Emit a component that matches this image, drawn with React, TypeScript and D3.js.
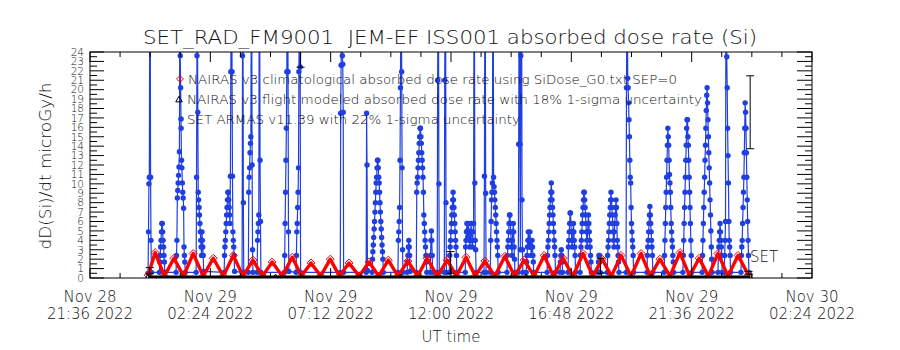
import React from "react";
import * as d3 from "d3";

const W = 900;
const H = 350;
const PL = 90, PR = 812, PT = 52, PB = 278;

// x axis (minutes after Nov 29 2022 00:00 UT)
const xTickMinutes = [-144, 144, 432, 720, 1008, 1296, 1584];
const xTickDay = ["Nov 28", "Nov 29", "Nov 29", "Nov 29", "Nov 29", "Nov 29", "Nov 30"];
const xTickTime = ["21:36 2022", "02:24 2022", "07:12 2022", "12:00 2022", "16:48 2022", "21:36 2022", "02:24 2022"];

// SET ARMAS passes: start minute + consecutive 1-min values (microGy/h)
const setPassStart = [-5, 22, 62, 110, 177, 220, 235, 256, 321, 349, 455, 517, 531, 593, 615, 637, 670, 687, 704, 716, 754, 799, 814, 854, 881, 900, 950, 981, 1000, 1029, 1072, 1094, 1139, 1189, 1230, 1275, 1321, 1359, 1374, 1414];
const setPassValues: number[][] = [
  [0.5, 4.9, 10.0, 10.7, 30, 30, 10.7, 4.0, 0.6],
  [0.6, 1.7, 2.4, 3.3, 4.0, 4.9, 5.8, 5.8, 4.9, 4.0, 3.3, 2.4, 1.7, 0.6],
  [0.6, 2.4, 4.0, 8.5, 9.3, 10.1, 10.9, 11.8, 13.4, 30, 23.6, 20.2, 15.9, 12.5, 11.7, 10.1, 9.1, 8.5, 7.4, 3.3, 2.4, 1.7, 0.6],
  [0.6, 10.7, 23.6, 30, 17.6, 9.1, 8.3, 7.5, 6.7, 5.8, 4.9, 4.0, 3.3, 2.4, 4.9, 4.0, 3.3, 2.4, 0.7],
  [0.6, 2.4, 3.3, 4.0, 4.9, 5.8, 6.7, 7.5, 8.3, 9.1, 9.1, 8.3, 7.5, 6.7, 5.8, 10.8, 21.9, 30, 30, 21.9, 10.8, 4.9, 4.0, 3.3, 2.4, 0.7],
  [0.6, 23.6, 30, 8.0, 0.6],
  [0.6, 9.1, 10.7, 11.7, 13.3, 14.3, 15.0, 30, 30, 12.0, 3.0, 0.6],
  [0.6, 4.0, 4.9, 5.8, 6.7, 30, 30, 12.5, 6.0, 0.6],
  [0.6, 2.4, 5.8, 9.1, 12.5, 15.9, 21.9, 30, 30, 21.9, 4.9, 0.7],
  [0.6, 2.4, 4.9, 5.8, 7.5, 9.1, 11.7, 21.9, 30, 30, 22.4, 0.6],
  [0.6, 17.5, 22.6, 30, 30, 23.6, 22.7, 17.6, 0.6],
  [0.6, 17.5, 12.0, 0.8],
  [0.6, 2.0, 2.8, 3.5, 4.3, 5.2, 6.0, 7.0, 8.0, 9.1, 10.1, 10.7, 11.7, 12.5, 12.5, 11.7, 10.7, 10.1, 9.1, 8.0, 7.0, 6.0, 5.2, 4.3, 3.5, 2.8, 2.0, 0.6],
  [0.6, 4.0, 4.9, 6.0, 7.5, 12.5, 20.2, 30, 30, 21.9, 11.7, 3.0, 0.6],
  [0.6, 1.7, 2.4, 3.3, 4.0, 3.3, 2.4, 0.7],
  [0.6, 9.1, 10.1, 10.7, 11.7, 12.5, 13.3, 14.3, 15.0, 15.9, 15.9, 15.0, 14.3, 13.3, 12.5, 11.7, 10.7, 9.1, 6.7, 5.8, 4.9, 4.0, 3.3, 2.4, 1.7, 0.6],
  [0.6, 2.4, 4.0, 5.0, 4.0, 2.4, 0.6],
  [0.6, 21.0, 30, 30, 10.0, 0.6],
  [0.6, 21.0, 30, 30, 8.0, 0.6],
  [0.6, 2.4, 3.3, 4.0, 4.9, 5.8, 6.7, 7.5, 8.3, 9.1, 8.3, 7.5, 6.7, 5.8, 4.9, 4.0, 3.3, 2.4, 0.6],
  [0.6, 3.3, 4.0, 4.9, 5.8, 5.0, 4.3, 5.0, 5.8, 4.9, 4.0, 3.3, 4.0, 4.9, 5.8, 4.9, 4.0, 3.3, 4.0, 4.9, 5.8, 30, 30, 10.1, 4.0, 3.0, 0.6],
  [0.6, 10.8, 30, 30, 9.0, 0.6],
  [0.6, 4.0, 6.0, 8.3, 9.1, 10.1, 30, 30, 10.7, 9.7, 9.1, 8.3, 7.5, 6.7, 5.8, 4.9, 4.0, 3.3, 2.4, 0.6],
  [0.6, 2.4, 3.3, 4.0, 4.9, 5.8, 6.7, 6.7, 5.8, 4.9, 4.0, 3.3, 2.4, 4.0, 4.9, 5.8, 4.9, 3.3, 2.0, 0.6],
  [0.6, 14.2, 30, 30, 14.2, 3.0, 23.6, 30, 30, 8.3, 3.0, 0.6],
  [0.6, 1.7, 2.4, 3.3, 4.0, 4.9, 4.0, 3.3, 4.0, 4.9, 4.0, 3.3, 2.4, 3.3, 4.0, 3.3, 2.4, 1.7, 0.6],
  [0.6, 2.4, 3.3, 4.0, 4.9, 5.8, 6.7, 7.5, 8.3, 9.1, 10.1, 9.1, 8.3, 7.5, 6.7, 5.8, 4.9, 4.0, 3.3, 2.4, 0.6],
  [0.6, 1.7, 2.4, 3.0, 2.4, 1.7, 0.6],
  [0.6, 3.3, 4.0, 4.9, 5.8, 6.9, 6.9, 5.8, 4.9, 4.0, 3.3, 4.0, 4.9, 5.8, 4.9, 4.0, 3.3, 2.4, 0.6],
  [0.6, 2.4, 3.3, 4.0, 4.9, 5.8, 6.7, 7.5, 8.3, 9.1, 9.1, 8.3, 7.5, 6.7, 5.8, 4.9, 4.0, 3.3, 4.9, 5.8, 6.7, 5.8, 4.9, 4.0, 3.3, 2.4, 1.7, 0.6],
  [0.6, 1.7, 2.4, 1.7, 2.4, 0.6],
  [0.6, 2.4, 3.3, 4.0, 4.9, 5.8, 6.7, 7.5, 8.3, 9.1, 8.3, 7.5, 6.7, 5.8, 4.9, 4.0, 3.3, 4.9, 5.8, 6.7, 7.5, 8.3, 7.5, 5.8, 4.0, 3.3, 2.4, 1.7, 0.6],
  [0.6, 20.2, 30, 30, 21.2, 20.2, 18.6, 16.8, 15.0, 12.5, 10.7, 10.1, 7.5, 5.8, 4.9, 4.0, 3.3, 2.4, 0.6],
  [0.6, 2.4, 3.3, 4.0, 4.9, 5.8, 6.7, 7.6, 6.7, 5.8, 4.9, 4.0, 3.3, 2.4, 0.6],
  [0.6, 2.4, 4.0, 5.8, 7.5, 9.1, 10.7, 12.5, 14.1, 15.9, 15.0, 14.1, 12.5, 11.0, 10.1, 9.1, 7.5, 5.8, 4.9, 4.0, 3.3, 2.4, 1.7, 0.6],
  [0.6, 2.4, 4.0, 5.8, 7.5, 9.1, 10.7, 12.5, 14.1, 15.9, 16.8, 16.8, 15.0, 14.1, 12.5, 10.7, 9.1, 7.5, 5.8, 4.0, 2.4, 0.6],
  [0.6, 2.4, 4.0, 5.8, 7.5, 9.1, 10.7, 12.5, 14.1, 15.9, 17.8, 19.4, 20.2, 18.6, 16.8, 15.0, 13.3, 11.7, 10.1, 8.3, 6.7, 5.0, 3.3, 2.0, 0.6],
  [0.6, 2.4, 3.3, 4.0, 4.9, 5.8, 4.9, 4.0, 3.3, 2.4, 0.6],
  [0.6, 2.4, 4.0, 6.0, 30, 30, 23.5, 20.2, 15.9, 13.0, 10.1, 6.0, 4.0, 3.3, 2.4, 0.6],
  [0.6, 2.4, 3.3, 4.0, 5.8, 7.5, 9.1, 10.7, 13.3, 15.9, 18.6, 17.6, 15.9, 13.3, 10.7, 8.3, 6.0, 4.0, 2.4, 0.6],
];

// SET error bars (22% 1-sigma)
const setErrT = [360, 1436];
const setErrV = [28.7, 17.6];

// NAIRAS v3 climatological (red diamonds)
const climT = [-5, 12, 34, 57, 80, 103, 127, 151, 175, 199, 222, 246, 269, 292, 316, 340, 362, 385, 408, 431, 453, 476, 500, 524, 547, 570, 593, 617, 640, 663, 687, 711, 733, 756, 778, 801, 825, 849, 872, 895, 919, 943, 965, 988, 1012, 1036, 1059, 1082, 1104, 1127, 1151, 1175, 1197, 1220, 1244, 1268, 1291, 1314, 1336, 1359, 1383, 1407, 1432];
const climV = [0.3, 2.7, 0.2, 2.1, 0.2, 2.6, 0.2, 2.1, 0.2, 2.4, 0.2, 1.9, 0.2, 1.7, 0.2, 2.2, 0.2, 1.6, 0.2, 2.0, 0.2, 1.6, 0.2, 1.7, 0.2, 1.9, 0.2, 1.8, 0.2, 2.1, 0.2, 1.9, 0.2, 2.2, 0.2, 1.8, 0.2, 2.3, 0.2, 1.9, 0.2, 2.4, 0.2, 2.1, 0.2, 2.6, 0.2, 2.0, 0.2, 2.4, 0.2, 2.6, 0.2, 2.0, 0.2, 2.7, 0.2, 2.1, 0.2, 2.6, 0.2, 2.4, 0.3];

// NAIRAS v3 flight modeled (black triangles)
const flightT = [-5, 300, 600, 900, 1200, 1436];
const flightV = [0.1, 0.1, 0.1, 0.1, 0.1, 0.1];
const flightErrT = [-1, 719, 1078, 1432];
const flightErrLo = [0.5, 0.5, 0.5, 0.4];
const flightErrHi = [1.1, 2.8, 2.1, 0.7];

const FONT = "'DejaVu Sans', sans-serif";
const BLUE = "#1f3fe0";
const RED = "#ff0000";
const INK = "#111";

export default function App() {
  const x = d3.scaleLinear().domain([-144, 1584]).range([PL, PR]);
  const y = d3.scaleLinear().domain([0, 24]).range([PB, PT]);

  const setPts: { t: number; v: number }[] = [];
  setPassStart.forEach((s, i) => setPassValues[i].forEach((v, j) => setPts.push({ t: s + j, v })));

  const line = d3.line<{ t: number; v: number }>().x((d) => x(d.t)).y((d) => y(d.v));
  const climPts = climT.map((t, i) => ({ t, v: climV[i] }));
  const flightPts = flightT.map((t, i) => ({ t, v: flightV[i] }));

  const yMajor = y.ticks(24);
  const yMinor = d3.range(0.5, 24, 1);
  const xMinor = d3.range(-144, 1585, 72).filter((m) => !xTickMinutes.includes(m));

  const errBar = (xx: number, lo: number, hi: number, key: string) => (
    <g key={key} stroke="#000" strokeWidth={1}>
      <line x1={xx} x2={xx} y1={y(lo)} y2={y(hi)} />
      <line x1={xx - 4} x2={xx + 4} y1={y(lo)} y2={y(lo)} />
      <line x1={xx - 4} x2={xx + 4} y1={y(hi)} y2={y(hi)} />
    </g>
  );

  return (
    <svg width={W} height={H} style={{ position: "absolute", left: 0, top: 0, background: "#fff" }} fontFamily={FONT}>
      <defs>
        <clipPath id="plot">
          <rect x={PL} y={PT} width={PR - PL} height={PB - PT} />
        </clipPath>
      </defs>
      <rect width={W} height={H} fill="#fff" />

      {/* title */}
      <text x={450} y={44} textAnchor="middle" fontSize={19} fontWeight={200} fill={INK} textLength={614} lengthAdjust="spacingAndGlyphs">
        {"SET_RAD_FM9001\u00a0\u00a0JEM-EF ISS001 absorbed dose rate (Si)"}
      </text>

      <g clipPath="url(#plot)">
        {/* SET ARMAS */}
        <path d={line(setPts) || ""} fill="none" stroke={BLUE} strokeWidth={1.2} />
        {setPts.map((d, i) => (
          <circle key={i} cx={x(d.t)} cy={y(d.v)} r={2.7} fill={BLUE} />
        ))}
        {/* NAIRAS climatological */}
        <path d={line(climPts) || ""} fill="none" stroke={RED} strokeWidth={3.4} strokeLinejoin="round" />
        {climPts.map((d, i) => (
          <path key={"c" + i} d={d3.symbol(d3.symbolDiamond2, 40)() || ""} transform={`translate(${x(d.t)},${y(d.v)})`} fill="none" stroke={RED} strokeWidth={1} />
        ))}
        {/* NAIRAS flight modeled */}
        <path d={line(flightPts) || ""} fill="none" stroke="#000" strokeWidth={3} />
        {flightPts.map((d, i) => (
          <path key={"f" + i} d={d3.symbol(d3.symbolTriangle2, 20)() || ""} transform={`translate(${x(d.t)},${y(d.v)})`} fill="none" stroke="#000" strokeWidth={1} />
        ))}
        {flightErrT.map((t, i) => errBar(x(t), flightErrLo[i], flightErrHi[i], "fe" + i))}
        {setErrT.map((t, i) => errBar(x(t), setErrV[i] * 0.78, setErrV[i] * 1.22, "se" + i))}
      </g>

      {/* frame */}
      <rect x={PL} y={PT} width={PR - PL} height={PB - PT} fill="none" stroke="#000" strokeWidth={1} />

      {/* ticks */}
      <g stroke="#000" strokeWidth={1}>
        {yMajor.map((v) => (
          <g key={"ym" + v}>
            <line x1={PL} x2={PL + 14} y1={y(v)} y2={y(v)} />
            <line x1={PR} x2={PR - 15} y1={y(v)} y2={y(v)} />
          </g>
        ))}
        {yMinor.map((v) => (
          <g key={"yn" + v}>
            <line x1={PL} x2={PL + 7} y1={y(v)} y2={y(v)} />
            <line x1={PR} x2={PR - 7} y1={y(v)} y2={y(v)} />
          </g>
        ))}
        {xTickMinutes.map((m) => (
          <g key={"xm" + m}>
            <line x1={x(m)} x2={x(m)} y1={PB} y2={PB - 10} />
            <line x1={x(m)} x2={x(m)} y1={PT} y2={PT + 10} />
          </g>
        ))}
        {xMinor.map((m) => (
          <g key={"xn" + m}>
            <line x1={x(m)} x2={x(m)} y1={PB} y2={PB - 5} />
            <line x1={x(m)} x2={x(m)} y1={PT} y2={PT + 5} />
          </g>
        ))}
      </g>

      {/* y tick labels */}
      {yMajor.map((v) => (
        <text key={"yl" + v} x={84} y={y(v)} dy="0.36em" textAnchor="end" fontSize={10.5} fontWeight={200} fill={INK}>
          {v}
        </text>
      ))}

      {/* x tick labels */}
      {xTickMinutes.map((m, i) => (
        <g key={"xl" + m} fontSize={15} fontWeight={200} textAnchor="middle" fill={INK}>
          <text x={x(m)} y={302}>{xTickDay[i]}</text>
          <text x={x(m)} y={319}>{xTickTime[i]}</text>
        </g>
      ))}
      <text x={451} y={342} textAnchor="middle" fontSize={15} fontWeight={200} fill={INK}>UT time</text>

      {/* y title */}
      <text transform="translate(51,166) rotate(-90)" textAnchor="middle" fontSize={16} fontWeight={200} fill={INK} textLength={167} lengthAdjust="spacingAndGlyphs">
        dD(Si)/dt microGy/h
      </text>

      {/* legend */}
      <path d={d3.symbol(d3.symbolDiamond2, 30)() || ""} transform="translate(180,79)" fill="none" stroke={RED} strokeWidth={1} />
      <text x={188} y={84} fontSize={13} fontWeight={200} fill={INK} textLength={489} lengthAdjust="spacingAndGlyphs">
        NAIRAS v3 climatological absorbed dose rate using SiDose_G0.txt SEP=0
      </text>
      <path d={d3.symbol(d3.symbolTriangle2, 30)() || ""} transform="translate(179,100)" fill="none" stroke="#000" strokeWidth={1} />
      <text x={187} y={104} fontSize={13} fontWeight={200} fill={INK} textLength={515} lengthAdjust="spacingAndGlyphs">
        NAIRAS v3 flight modeled absorbed dose rate with 18% 1-sigma uncertainty
      </text>
      <circle cx={181} cy={119} r={2.8} fill={BLUE} />
      <text x={187} y={124} fontSize={13} fontWeight={200} fill={INK} textLength={333} lengthAdjust="spacingAndGlyphs">
        SET ARMAS v11.39 with 22% 1-sigma uncertainty
      </text>

      <text x={750} y={262} fontSize={15} fontWeight={200} fill={INK}>SET</text>
    </svg>
  );
}
